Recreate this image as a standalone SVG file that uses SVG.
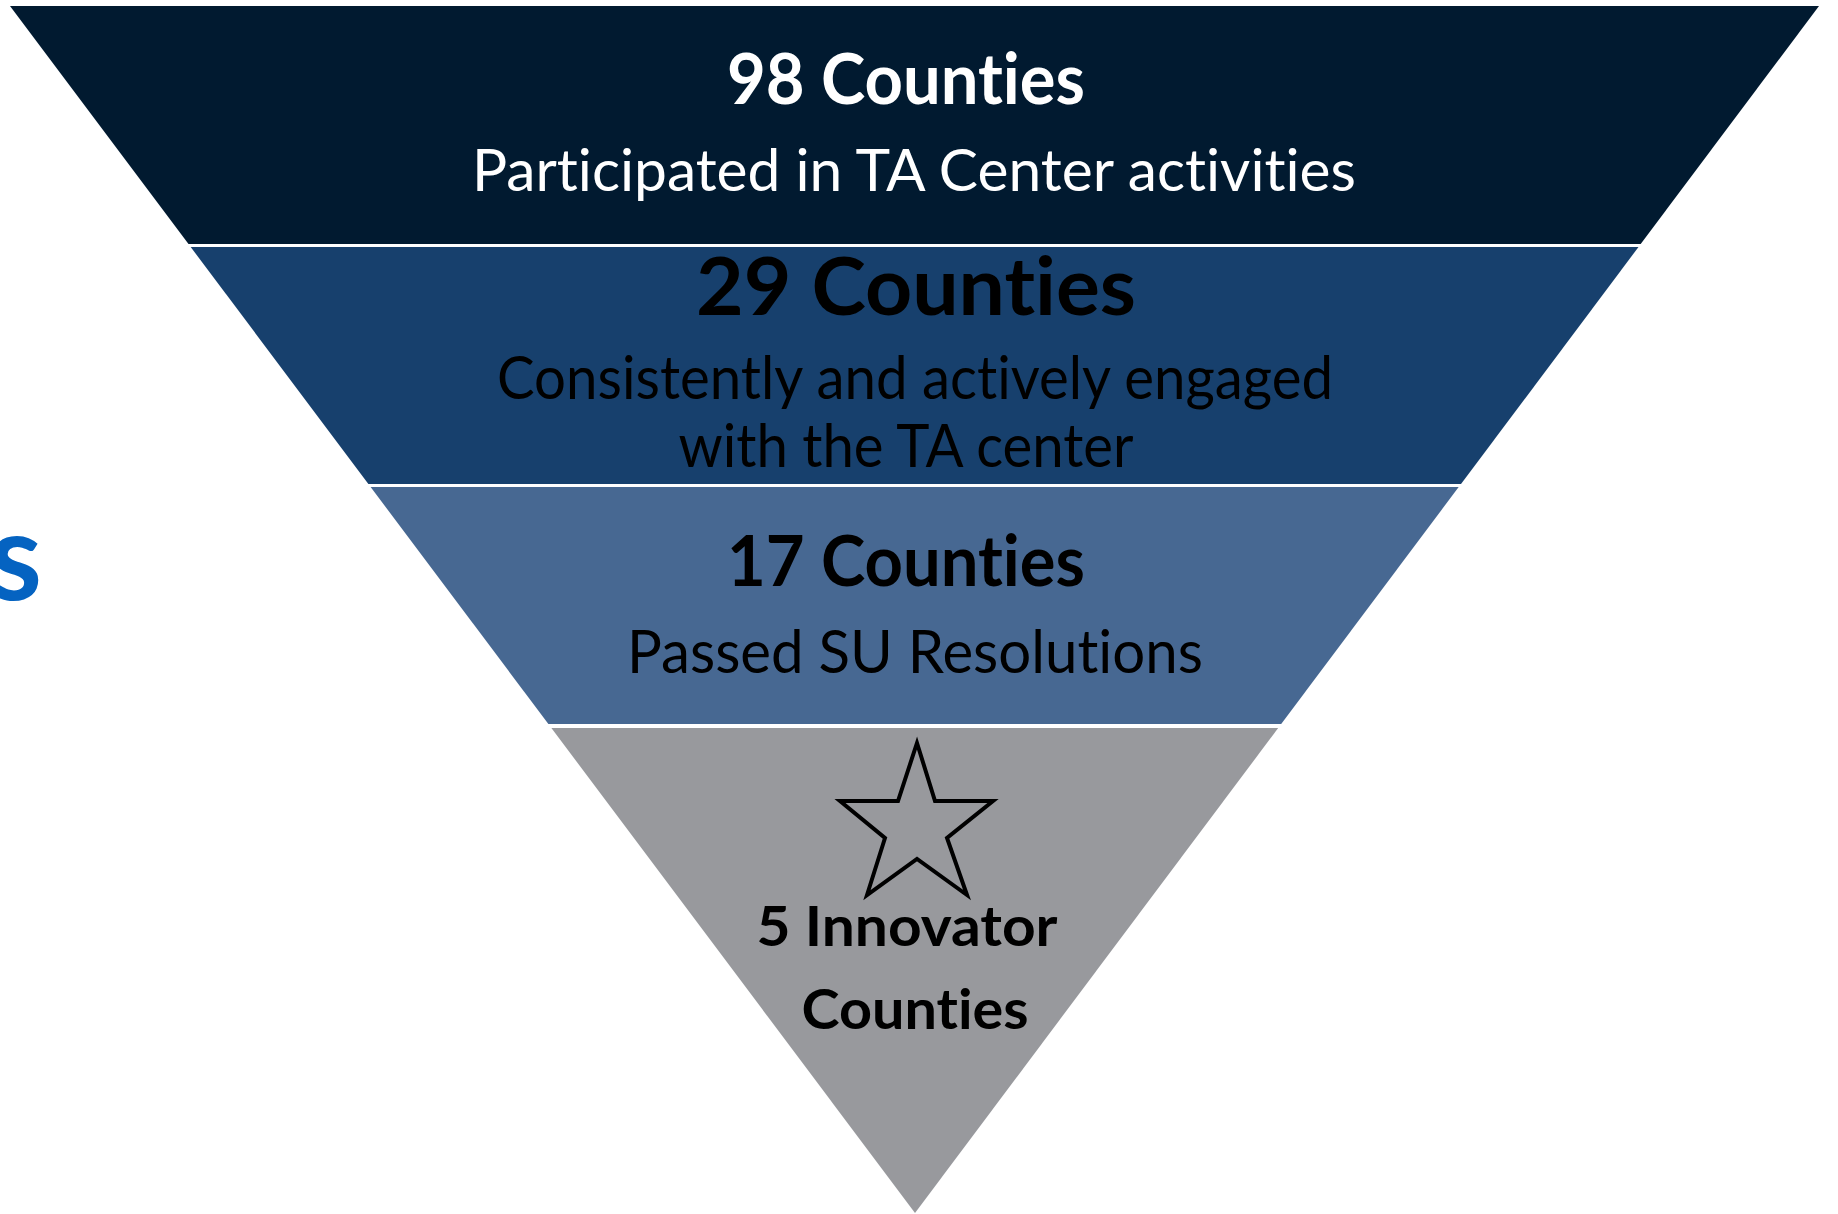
<svg xmlns="http://www.w3.org/2000/svg" width="1838" height="1214" viewBox="0 0 1838 1214">
  <style>
    text { font-variant-ligatures: none; font-feature-settings: "liga" 0, "clig" 0; }
    .t { font-family: Lato, "Open Sans", "Liberation Sans", sans-serif; text-anchor: middle; }
    .b { font-weight: bold; }
    .w { fill: #ffffff; }
    .k { fill: #000000; }
  </style>
  <rect x="0" y="0" width="1838" height="1214" fill="#ffffff"/>
  <text x="42" y="600" font-family="Lato, 'Open Sans', 'Liberation Sans', sans-serif" font-weight="bold" font-size="122" fill="#0563c1" text-anchor="end">s</text>

  <g id="band1">
    <polygon points="10,6 1819,6 1640.7,244 188.5,244" fill="#011a30"/>
    <text class="t b w" x="906" y="104" font-size="70" textLength="358" lengthAdjust="spacingAndGlyphs">98 Counties</text>
    <text class="t w" x="914" y="191" font-size="58" textLength="884" lengthAdjust="spacingAndGlyphs">Participated in TA Center activities</text>
  </g>

  <g id="band2">
    <polygon points="190.7,247 1638.5,247 1461,484 368.4,484" fill="#17406d"/>
    <text class="t b k" x="916" y="315" font-size="81" textLength="440" lengthAdjust="spacingAndGlyphs">29 Counties</text>
    <text class="t k" x="915" y="399" font-size="60" textLength="836" lengthAdjust="spacingAndGlyphs">Consistently and actively engaged</text>
    <text class="t k" x="906" y="467" font-size="60" textLength="455" lengthAdjust="spacingAndGlyphs">with the TA center</text>
  </g>

  <g id="band3">
    <polygon points="370.6,487 1458.7,487 1281.2,724 548.4,724" fill="#476892"/>
    <text class="t b k" x="906" y="586" font-size="70" textLength="358" lengthAdjust="spacingAndGlyphs">17 Counties</text>
    <text class="t k" x="915" y="673" font-size="60" textLength="576" lengthAdjust="spacingAndGlyphs">Passed SU Resolutions</text>
  </g>

  <g id="band4">
    <polygon points="551.4,728 1278.2,728 915,1213" fill="#98999d"/>
    <polygon points="917,743 935,801 993,801 947,838 967,895 917,859 867,895 885,838 840,801 898,801" fill="none" stroke="#000000" stroke-width="4" stroke-linejoin="miter"/>
    <text class="t b k" x="907" y="946" font-size="56" textLength="301" lengthAdjust="spacingAndGlyphs">5 Innovator</text>
    <text class="t b k" x="915" y="1029" font-size="56" textLength="227" lengthAdjust="spacingAndGlyphs">Counties</text>
  </g>
</svg>
